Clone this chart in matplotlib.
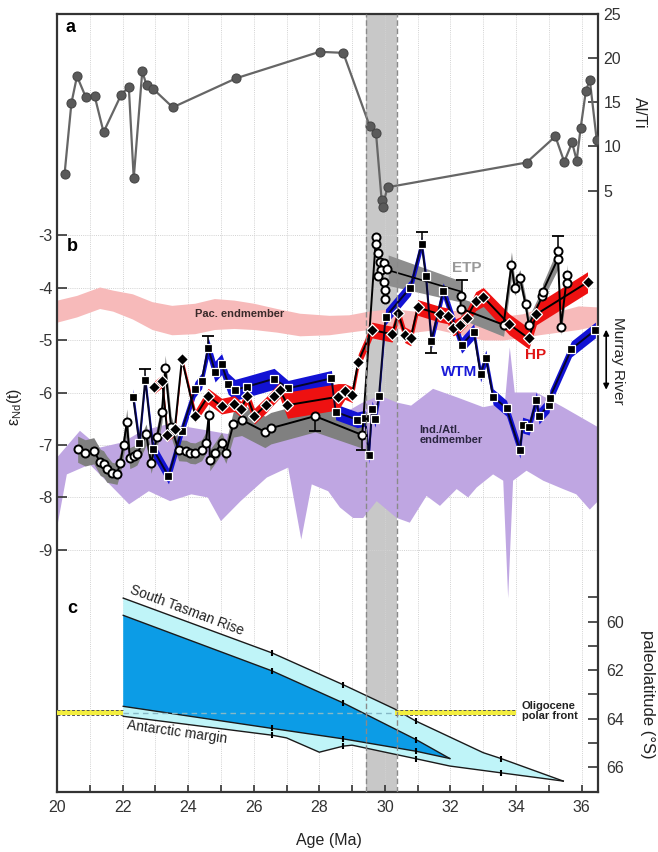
import numpy as np
import matplotlib.pyplot as plt

plt.rcParams['font.family'] = ['Liberation Sans', 'DejaVu Sans']
plt.rcParams['axes.unicode_minus'] = False

# ---- a: Al/Ti ----
alti_age = [20.23, 20.44, 20.61, 20.88, 21.15, 21.42, 21.96, 22.19, 22.34, 22.60,
            22.73, 22.92, 23.53, 25.47, 28.01, 28.73, 29.54, 29.73, 29.90, 29.93,
            30.08, 34.32, 35.20, 35.47, 35.71, 35.85, 35.97, 36.13, 36.25, 36.46]
alti_val = [6.85, 14.92, 17.95, 15.57, 15.68, 11.63, 15.88, 16.74, 6.40, 18.49,
            16.97, 16.56, 14.43, 17.73, 20.72, 20.60, 12.27, 11.51, 3.98, 3.18,
            5.38, 8.18, 11.14, 8.26, 10.45, 8.41, 12.08, 16.28, 17.53, 10.76]

# ---- b: endmembers ----
pac_age = [20.0, 20.6, 21.3, 21.7, 22.3, 22.9, 23.5, 24.2, 24.8, 25.4, 26.0, 26.7, 27.4,
           28.3, 28.9, 29.5, 30.2, 30.9, 31.6, 32.3, 33.0, 33.6, 34.2, 34.7, 35.3, 35.9, 36.5]
pac_hi = [-4.24, -4.15, -3.99, -4.05, -4.12, -4.27, -4.34, -4.30, -4.21, -4.24, -4.30, -4.40, -4.49,
          -4.53, -4.52, -4.45, -4.40, -4.45, -4.40, -4.45, -4.40, -4.55, -4.50, -4.40, -4.45, -4.35, -4.37]
pac_lo = [-4.66, -4.56, -4.40, -4.45, -4.60, -4.80, -4.90, -4.88, -4.80, -4.78, -4.80, -4.85, -4.92,
          -4.90, -4.85, -4.80, -4.75, -4.85, -4.80, -4.90, -5.00, -5.00, -4.95, -4.90, -4.85, -4.80, -4.72]

ind_age_hi = [20.0, 20.7, 21.3, 22.0, 22.6, 23.4, 24.1, 25.2, 26.2, 27.3, 28.6, 29.3, 29.85,
              30.36, 30.8, 31.47, 32.19, 33.0, 33.66, 33.81, 33.96, 34.62, 35.44, 36.5]
ind_hi = [-7.24, -6.73, -7.05, -6.95, -6.73, -6.60, -6.67, -6.79, -6.60, -6.47, -6.45, -6.20, -6.06,
          -6.19, -6.25, -5.93, -6.09, -6.28, -6.20, -5.14, -6.00, -6.00, -6.28, -6.66]
ind_age_lo = [20.0, 20.3, 21.0, 21.7, 22.2, 22.8, 23.45, 24.1, 24.6, 25.0, 25.6, 26.4, 27.05,
              27.45, 27.77, 28.27, 28.63, 29.03, 29.34, 29.75, 30.36, 30.76, 31.27, 31.68, 32.19,
              32.54, 32.80, 33.30, 33.61, 33.76, 33.91, 34.32, 34.83, 35.44, 35.84, 36.25, 36.5]
ind_lo = [-8.58, -7.56, -7.37, -7.81, -8.13, -7.88, -8.07, -7.94, -8.00, -8.45, -8.07, -7.62, -7.43,
          -8.80, -7.75, -7.88, -8.19, -8.39, -8.39, -8.07, -8.39, -8.48, -7.97, -8.16, -7.84,
          -8.00, -7.81, -7.56, -7.68, -9.92, -7.68, -7.49, -7.68, -7.84, -7.94, -8.23, -8.07]

# ---- b: site records ----
circ_age = [20.63, 20.86, 21.12, 21.32, 21.42, 21.52, 21.68, 21.83, 21.93, 22.03, 22.13, 22.22,
            22.36, 22.44, 22.72, 22.87, 23.05, 23.20, 23.30, 23.48, 23.71, 23.94, 24.06, 24.21,
            24.41, 24.54, 24.63, 24.66, 24.82, 25.02, 25.15, 25.38, 25.63, 26.34, 26.52, 27.87, 29.31]
circ_eps = [-7.08, -7.15, -7.11, -7.33, -7.36, -7.46, -7.53, -7.55, -7.34, -7.00, -6.56, -7.25,
            -7.21, -7.18, -6.80, -7.34, -6.85, -6.37, -5.54, -6.65, -7.10, -7.11, -7.15, -7.16,
            -7.10, -6.96, -6.43, -7.29, -7.15, -6.96, -7.15, -6.60, -6.52, -6.75, -6.68, -6.45, -6.81]
circ_err = [0.25, 0.25, 0.25, 0.25, 0.25, 0.25, 0.2, 0.2, 0.2, 0.2, 0.25, 0.2,
            0.2, 0.2, 0.2, 0.2, 0.2, 0.2, 0.25, 0.2, 0.2, 0.2, 0.2, 0.2,
            0.2, 0.2, 0.2, 0.2, 0.2, 0.2, 0.2, 0.25, 0.3, 0.3, 0.3, 0.3, 0.25]

clus_age = [29.73, 29.73, 29.80, 29.85, 29.98, 29.87, 30.07, 29.78, 29.98, 30.00, 30.00]
clus_eps = [-3.03, -3.17, -3.35, -3.51, -3.53, -3.67, -3.65, -3.78, -3.90, -4.05, -4.21]

etp_age = [30.10, 32.34]
etp_eps = [-3.67, -4.08]
etp_err = [0.29, 0.20]

circ2_age = [32.31, 32.31, 33.62, 33.86, 33.96, 34.12, 34.29, 34.39, 34.80, 34.81, 35.27,
             35.27, 35.37, 35.56, 35.56]
circ2_eps = [-4.16, -4.40, -4.71, -3.57, -4.00, -3.81, -4.32, -4.71, -4.17, -4.08, -3.46,
             -3.30, -4.75, -3.76, -3.92]
circ2_err = [0.2, 0.2, 0.22, 0.25, 0.15, 0.15, 0.15, 0.15, 0.15, 0.15, 0.2,
             0.25, 0.15, 0.2, 0.2]

wtm_age = [22.32, 22.51, 22.69, 22.93, 23.40, 23.80, 24.21, 24.41, 24.61, 24.82, 25.02, 25.22,
           25.43, 25.78, 26.62, 27.05, 28.37, 28.50, 29.16, 29.39, 29.51, 29.61, 29.70, 29.82,
           30.02, 30.78, 31.12, 31.25, 31.42, 31.78, 32.34, 32.71, 32.92, 33.08, 33.30, 33.71,
           34.12, 34.20, 34.40, 34.62, 34.70, 35.01, 35.03, 35.69, 36.42]
wtm_eps = [-6.08, -6.96, -5.76, -7.08, -7.59, -6.73, -5.94, -5.78, -5.15, -5.60, -5.46, -5.83,
           -5.95, -5.89, -5.74, -5.92, -5.73, -6.37, -6.52, -6.49, -7.20, -6.31, -6.51, -6.07,
           -4.56, -4.00, -3.17, -3.78, -5.01, -4.06, -5.10, -4.84, -5.65, -5.34, -6.08, -6.30,
           -7.10, -6.62, -6.66, -6.14, -6.45, -6.23, -6.10, -5.17, -4.81]
wtm_err = [0.15, 0.15, 0.15, 0.15, 0.15, 0.15, 0.15, 0.15, 0.2, 0.2, 0.2, 0.2,
           0.2, 0.2, 0.2, 0.15, 0.15, 0.15, 0.15, 0.15, 0.15, 0.15, 0.15, 0.15,
           0.15, 0.15, 0.15, 0.15, 0.15, 0.15, 0.15, 0.15, 0.15, 0.15, 0.15, 0.15,
           0.15, 0.15, 0.15, 0.15, 0.15, 0.15, 0.15, 0.15, 0.15]

hp_age = [22.97, 23.21, 23.37, 23.59, 23.81, 24.22, 24.61, 25.02, 25.41, 25.61, 25.80, 26.02,
          26.37, 26.62, 26.80, 27.03, 28.58, 28.78, 29.00, 29.19, 29.61, 30.22, 30.41, 30.61,
          30.79, 31.00, 31.68, 31.91, 32.08, 32.29, 32.49, 32.77, 33.00, 33.79, 34.39, 34.62, 36.18]
hp_eps = [-5.90, -5.78, -6.81, -6.70, -5.37, -6.45, -6.07, -6.26, -6.21, -6.32, -6.07, -6.45,
          -6.24, -6.07, -5.95, -6.24, -6.08, -5.98, -6.04, -5.41, -4.81, -4.89, -4.49, -4.90,
          -4.96, -4.38, -4.51, -4.54, -4.77, -4.71, -4.58, -4.26, -4.18, -4.70, -4.97, -4.51, -3.90]
hp_err = [0.12, 0.12, 0.12, 0.12, 0.08, 0.12, 0.15, 0.15, 0.15, 0.15, 0.15, 0.15,
          0.15, 0.15, 0.15, 0.25, 0.25, 0.15, 0.15, 0.15, 0.15, 0.15, 0.15, 0.15,
          0.15, 0.15, 0.15, 0.15, 0.15, 0.15, 0.15, 0.18, 0.18, 0.2, 0.2, 0.2, 0.2]

# error bars: age, value, end of bar
eb_age = [22.69, 24.61, 31.12, 31.42, 35.27, 27.87, 32.34, 29.31]
eb_val = [-5.76, -5.15, -3.17, -5.01, -3.30, -6.45, -4.16, -6.81]
eb_end = [-5.55, -4.92, -2.94, -5.24, -3.01, -6.73, -3.86, -7.10]

# ---- c: paleolatitude reconstructions ----
outer_top_age = [22.02, 26.56, 28.73, 30.30, 30.95, 33.00, 33.54, 35.44]
outer_top_lat = [59.03, 61.29, 62.60, 63.60, 64.10, 65.40, 65.64, 66.57]
outer_bot_age = [22.02, 26.56, 27.00, 28.00, 28.73, 29.00, 30.95, 31.98, 33.54, 35.44]
outer_bot_lat = [63.90, 64.68, 64.79, 65.38, 65.13, 65.09, 65.65, 65.95, 66.23, 66.57]
inner_top_age = [22.02, 26.56, 28.73, 30.95, 31.98]
inner_top_lat = [59.74, 62.03, 63.35, 64.86, 65.64]
inner_bot_age = [22.02, 26.56, 28.73, 30.95, 31.98]
inner_bot_lat = [63.49, 64.40, 64.83, 65.34, 65.64]
recon_age = [26.56, 28.73, 30.95]
recon_age_outer = [26.56, 28.73, 30.95, 33.54]

pf_lat = [63.65, 63.86]
pf_west = [20.0, 22.02]
pf_east = [30.30, 34.00]

event = [29.42, 30.37]

# ---- figure ----
fig = plt.figure(figsize=(6.58, 8.52), dpi=100)
axb = fig.add_axes([57/658, 1 - 792/852, 541/658, 778/852])
axa = axb.twinx()
axc = axb.twinx()

axb.set_xlim(20, 36.5)
axb.set_ylim(-13.61, 1.21)
axa.set_ylim(-63.1, 25)
axc.set_ylim(67.02, 34.96)

spine_col = '#333333'
for sp in axb.spines.values():
    sp.set_linewidth(1.6)
    sp.set_color(spine_col)
for ax in (axa, axc):
    for sp in ax.spines.values():
        sp.set_visible(False)

# grid
for a in range(21, 37):
    axb.axvline(a, color='#d2d2d2', lw=0.7, ls=(0, (1, 1.2)), zorder=0.5)
for e in range(-9, -2):
    axb.axhline(e, color='#d2d2d2', lw=0.7, ls=(0, (1, 1.2)), zorder=0.5)

axb.axvspan(event[0], event[1], color='#c8c8c8', lw=0, zorder=0.3)
for x in event:
    axc.axvline(x, color='#8a8a8a', lw=1.0, ls=(0, (4, 2)), zorder=20)

# ticks
axb.set_xticks(range(20, 37, 2))
axb.set_xticks(range(21, 37, 2), minor=True)
axb.tick_params(axis='x', which='both', direction='in', length=5, width=1.2,
                top=False, labelsize=11.5, pad=6, colors=spine_col)
axb.set_yticks(range(-9, -2))
axb.set_yticklabels([str(e) for e in range(-9, -2)])
axb.tick_params(axis='y', which='both', direction='in', length=7, width=1.2,
                right=False, labelsize=11.5, pad=3, colors=spine_col)

axa.set_yticks([5, 10, 15, 20, 25])
axa.tick_params(axis='y', direction='in', length=7, width=1.2, labelsize=11.5,
                pad=4, colors=spine_col)

axc.set_yticks([60, 62, 64, 66])
axc.set_yticks([59, 61, 63, 65], minor=True)
axc.tick_params(axis='y', which='both', direction='in', length=7, width=1.2,
                labelsize=11.5, pad=6, colors=spine_col)

# ---- panel a ----
axa.plot(alti_age, alti_val, '-o', color='#666666', lw=1.6, ms=6.5,
         mfc='#5a5a5a', mec='#474747', mew=0.8, zorder=5)
axa.text(20.27, 23.5, 'a', fontsize=13, fontweight='bold', va='center')
axa.text(37.78, 13.8, 'Al/Ti', rotation=270, ha='center', va='center', fontsize=11.5,
         color='#222222')

# ---- panel b ----
axb.fill_between(pac_age, pac_lo, pac_hi, color='#f7baba', lw=0, zorder=1)
axb.fill(np.r_[ind_age_hi, ind_age_lo[::-1]], np.r_[ind_hi, ind_lo[::-1]],
         color='#bfa6e2', lw=0, zorder=1)

ca, ce, cr = np.array(circ_age), np.array(circ_eps), np.array(circ_err)
axb.fill_between(ca, ce - cr, ce + cr, color='#808080', lw=0, zorder=2)
ea, ee, er = np.array(etp_age), np.array(etp_eps), np.array(etp_err)
axb.fill_between(ea, ee - er, ee + er, color='#8e8e8e', lw=0, zorder=2)
c2a, c2e, c2r = np.array(circ2_age), np.array(circ2_eps), np.array(circ2_err)
axb.fill_between(c2a, c2e - c2r, c2e + c2r, color='#8a8a8a', lw=0, zorder=2)
wa, we, wr = np.array(wtm_age), np.array(wtm_eps), np.array(wtm_err)
axb.fill_between(wa, we - wr, we + wr, color='#1212d4', lw=0, zorder=2.3)
ha_, he, hr = np.array(hp_age), np.array(hp_eps), np.array(hp_err)
axb.fill_between(ha_, he - hr, he + hr, color='#ee1111', lw=0, zorder=2.5)

axb.plot(np.r_[ca, clus_age], np.r_[ce, clus_eps], color='k', lw=1.4, zorder=3)
axb.plot(ea, ee, color='k', lw=1.2, zorder=3)
axb.plot(c2a, c2e, color='k', lw=1.4, zorder=3)
axb.plot(wa, we, color='#06062a', lw=1.4, zorder=3.2)
axb.plot(ha_, he, color='k', lw=1.4, zorder=3.4)

axb.vlines(eb_age, eb_val, eb_end, color='k', lw=1.1, zorder=3)
axb.plot(eb_age, eb_end, '_', color='k', ms=9, mew=1.3, zorder=3)

axb.plot(np.r_[ca, clus_age, c2a], np.r_[ce, clus_eps, c2e], 'o', ls='none', ms=5.8,
         mfc='white', mec='k', mew=1.4, zorder=5)
axb.plot(wa, we, 's', ls='none', ms=6, mfc='k', mec='white', mew=0.9, zorder=5)
axb.plot(ha_, he, 'D', ls='none', ms=5.8, mfc='k', mec='white', mew=0.9, zorder=5.5)

axb.text(20.3, -3.22, 'b', fontsize=13, fontweight='bold', va='center')
axb.text(25.58, -4.51, 'Pac. endmember', fontsize=8, fontweight='bold',
         color='#3a2a2a', ha='center', va='center', zorder=6)
axb.text(31.05, -6.81, 'Ind./Atl.\nendmember', fontsize=8, fontweight='bold',
         color='#2a2540', ha='left', va='center', linespacing=1.0, zorder=6)
axb.text(32.50, -3.63, 'ETP', fontsize=11, fontweight='bold', color='#999999',
         ha='center', va='center', zorder=6)
axb.text(34.61, -5.29, 'HP', fontsize=11, fontweight='bold', color='#e01515',
         ha='center', va='center', zorder=6)
axb.text(32.26, -5.60, 'WTM', fontsize=11, fontweight='bold', color='#1a1ad8',
         ha='center', va='center', zorder=6)
axb.text(18.69, -6.27, 'ε$_{\\mathregular{Nd}}$(t)', rotation=90, ha='center', va='center',
         fontsize=11.5, color='#222222')
axb.annotate('', xy=(36.75, -4.75), xytext=(36.75, -6.0),
             arrowprops=dict(arrowstyle='<|-|>', color='k', lw=1.2, mutation_scale=8),
             annotation_clip=False)
axb.text(37.11, -5.40, 'Murray River', rotation=270, ha='center', va='center',
         fontsize=11, color='#222222')

# ---- panel c ----
axc.fill(np.r_[outer_top_age, outer_bot_age[::-1]], np.r_[outer_top_lat, outer_bot_lat[::-1]],
         color='#bff4f8', lw=0, zorder=2)
axc.fill(np.r_[inner_top_age, inner_bot_age[::-1]], np.r_[inner_top_lat, inner_bot_lat[::-1]],
         color='#0c9ce6', lw=0, zorder=3)
for xs, ys in ((outer_top_age, outer_top_lat), (outer_bot_age, outer_bot_lat),
               (inner_top_age, inner_top_lat), (inner_bot_age, inner_bot_lat)):
    axc.plot(xs, ys, color='#1a1a1a', lw=1.0, zorder=4)
for xs, ys, ages in ((outer_top_age, outer_top_lat, recon_age_outer),
                     (outer_bot_age, outer_bot_lat, recon_age_outer),
                     (inner_top_age, inner_top_lat, recon_age),
                     (inner_bot_age, inner_bot_lat, recon_age)):
    axc.plot(ages, np.interp(ages, xs, ys), '|', color='k', ms=5, mew=1.5, zorder=4)

for seg in (pf_west, pf_east):
    axc.fill_between(seg, pf_lat[0], pf_lat[1], color='#f3ee3e', lw=0, zorder=5)
    for lat in pf_lat:
        axc.plot(seg, [lat, lat], color='#555555', lw=0.7, ls=(0, (3, 2)), zorder=5.5)
axc.plot([pf_west[1], pf_east[0]], [np.mean(pf_lat)] * 2, color='#86b8c6', lw=1.0,
         ls=(0, (4, 3)), zorder=5)

axc.text(20.3, 59.44, 'c', fontsize=13, fontweight='bold', va='center')
axc.text(23.96, 59.55, 'South Tasman Rise', rotation=-20.5, rotation_mode='anchor',
         ha='center', va='center', fontsize=10, color='#222222')
axc.text(23.65, 64.55, 'Antarctic margin', rotation=-8, rotation_mode='anchor',
         ha='center', va='center', fontsize=10, color='#222222')
axc.text(34.18, 63.68, 'Oligocene\npolar front', fontsize=8, fontweight='bold',
         ha='left', va='center', linespacing=0.95, color='#222222')
axc.text(38.02, 63.0, 'paleolatitude (°S)', rotation=270, ha='center', va='center',
         fontsize=12, color='#222222')

fig.text(329/658, 1 - 840/852, 'Age (Ma)', ha='center', va='center', fontsize=11.5,
         color='#222222')

fig.savefig('out.png', dpi=100)
